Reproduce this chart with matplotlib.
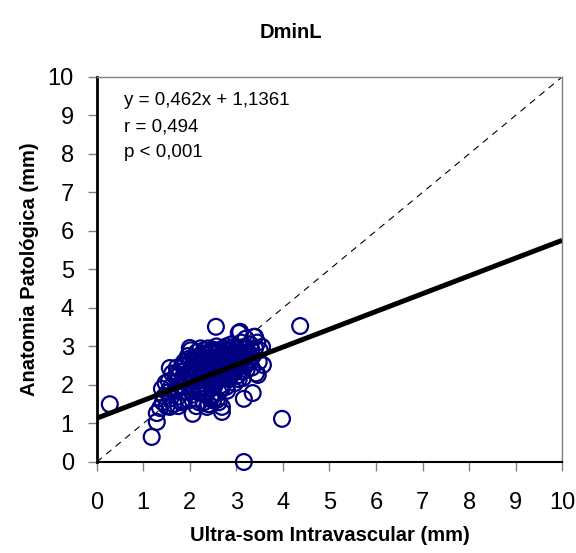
import matplotlib
matplotlib.use("Agg")
import matplotlib.pyplot as plt
import numpy as np

plt.rcParams['font.family'] = ['Liberation Sans', 'DejaVu Sans']

# IVUS vs. pathology minimum lumen diameter (mm)
ivus = [
    0.28, 1.18, 1.29, 1.29, 1.36, 1.57, 1.57, 2.00, 3.08, 3.40, 3.55, 3.46, 3.57,
    3.35, 3.16, 2.69, 2.69, 2.06, 2.56, 4.37, 3.98, 3.16, 2.37, 2.58, 2.69,
    1.40, 1.42, 1.45, 1.48, 1.50, 1.52, 1.55, 1.58, 1.60, 1.62, 1.65, 1.68, 1.70,
    1.72, 1.75, 1.78, 1.80, 1.82, 1.85, 1.88, 1.90, 1.92, 1.95, 1.96, 1.98, 2.00,
    2.02, 2.04, 2.05, 2.07, 2.08, 2.10, 2.12, 2.14, 2.15, 2.17, 2.18, 2.20, 2.22,
    2.23, 2.25, 2.27, 2.28, 2.30, 2.32, 2.33, 2.35, 2.37, 2.38, 2.40, 2.42, 2.43,
    2.45, 2.47, 2.48, 2.50, 2.52, 2.53, 2.55, 2.57, 2.58, 2.60, 2.62, 2.63, 2.65,
    2.67, 2.68, 2.70, 2.72, 2.73, 2.75, 2.77, 2.78, 2.80, 2.82, 2.83, 2.85, 2.87,
    2.88, 2.90, 2.92, 2.93, 2.95, 2.97, 2.98, 3.00, 3.02, 3.03, 3.05, 3.07, 3.08,
    3.10, 3.12, 3.13, 3.15, 3.17, 3.20, 3.22, 3.25, 3.28, 3.30, 3.33, 3.35, 3.38,
    3.40, 3.42, 3.45, 3.48, 3.50,
    2.20, 2.30, 2.40, 2.50, 2.60, 2.45, 2.35, 2.55, 2.65, 2.15, 2.25, 2.05, 1.95,
    2.10, 2.20, 2.30, 2.50, 2.60, 2.70, 2.80, 2.90, 3.00, 2.75, 2.85, 2.95,
    2.20, 2.50, 2.40, 1.75, 1.85, 2.35, 2.45, 2.62, 2.80, 3.05,
    2.12, 2.28, 2.42, 2.58, 2.72, 2.88, 3.02, 3.18, 2.18, 2.34, 2.52, 2.66, 2.84,
    2.98, 3.12, 3.26, 1.88, 2.02, 2.16, 2.32, 2.48, 2.64, 2.78, 2.94, 3.08, 3.22,
    1.72, 1.84, 1.98, 2.26, 2.44, 2.56, 2.74, 2.86, 3.14, 3.32,
]
pathology = [
    1.50, 0.65, 1.04, 1.27, 1.40, 1.43, 2.44, 2.96, 3.38, 3.25, 2.99, 2.26, 2.52,
    1.79, 1.64, 1.43, 1.30, 1.25, 3.51, 3.53, 1.12, 0.00, 1.43, 1.61, 1.92,
    1.90, 1.55, 1.70, 2.05, 1.45, 1.80, 2.10, 1.65, 1.95, 2.30, 1.50, 1.85, 2.20,
    2.45, 1.70, 2.00, 2.35, 1.55, 2.15, 2.60, 1.85, 2.40, 2.05, 2.75, 1.60, 2.25,
    2.90, 1.95, 2.50, 1.75, 2.70, 2.10, 2.35, 1.45, 2.85, 2.00, 2.55, 1.80, 2.25,
    2.95, 2.65, 1.95, 2.40, 1.55, 2.15, 2.80, 2.50, 1.85, 2.30, 2.95, 2.05, 2.65,
    1.70, 2.45, 2.85, 2.20, 1.95, 2.70, 2.35, 3.00, 2.10, 2.55, 1.80, 2.85, 2.30,
    2.65, 2.00, 2.45, 2.95, 2.20, 2.75, 2.55, 1.95, 2.35, 2.90, 2.65, 2.15, 2.50,
    3.05, 2.75, 2.30, 2.60, 2.85, 2.05, 2.45, 2.95, 2.65, 2.25, 3.35, 2.80, 2.50,
    3.10, 2.35, 2.70, 2.95, 2.55, 3.20, 2.40, 2.85, 2.65, 3.05, 2.45, 2.75, 3.25,
    2.95, 2.30, 3.10, 2.60, 2.90,
    2.50, 2.60, 2.40, 2.50, 2.70, 2.20, 2.70, 2.60, 2.50, 2.30, 2.20, 2.10, 2.30,
    2.60, 2.75, 2.90, 2.90, 2.90, 2.80, 2.80, 2.90, 2.80, 2.60, 2.40, 2.70,
    1.55, 1.60, 1.50, 1.45, 1.60, 1.75, 1.65, 1.55, 1.85, 2.15,
    2.40, 2.55, 2.62, 2.45, 2.58, 2.68, 2.52, 2.78, 2.15, 2.32, 2.28, 2.40, 2.48,
    2.36, 2.62, 2.58, 2.48, 2.60, 2.72, 2.82, 2.92, 2.86, 3.00, 2.98, 2.96, 2.72,
    2.30, 2.52, 2.68, 2.05, 2.10, 2.12, 2.18, 2.22, 2.18, 2.92,
]

slope, intercept = 0.462, 1.1361
axis_ticks = list(range(0, 11))

fig = plt.figure(figsize=(5.76, 5.53), dpi=100)
ax = fig.add_axes([0.168, 0.1646, 0.808, 0.6964])

# identity line
ax.plot([0, 10], [0, 10], color='black', lw=0.8, ls=(0, (6, 5)), zorder=1)
# data
ax.scatter(ivus, pathology, s=130, facecolors='none', edgecolors='#000080',
           linewidths=1.6, zorder=2, clip_on=False)
# regression line
xr = np.array([0, 10])
ax.plot(xr, slope * xr + intercept, color='black', lw=3.6, zorder=3,
        solid_capstyle='butt')

ax.set_xlim(0, 10)
ax.set_ylim(0, 10)
ax.set_xticks(axis_ticks)
ax.set_yticks(axis_ticks)
ax.tick_params(axis='both', direction='out', length=6.5, labelsize=17,
               color='#808080', width=1)
ax.tick_params(axis='x', pad=15)
ax.tick_params(axis='y', pad=10)

for side in ('top', 'right'):
    ax.spines[side].set_color('#808080')
    ax.spines[side].set_linewidth(1.0)
ax.spines['left'].set_color('black')
ax.spines['left'].set_linewidth(2.0)
ax.spines['bottom'].set_color('black')
ax.spines['bottom'].set_linewidth(1.5)

ax.set_xlabel('Ultra-som Intravascular (mm)', fontsize=14.5, fontweight='bold',
              labelpad=9)
ax.set_ylabel('Anatomia Patológica (mm)', fontsize=14.5, fontweight='bold',
              labelpad=6)
fig.text(0.505, 0.942, 'DminL', fontsize=14.5, fontweight='bold',
         ha='center', va='center')

ax.text(0.058, 0.96, 'y = 0,462x + 1,1361\nr = 0,494\np < 0,001',
        transform=ax.transAxes, fontsize=13.5, va='top', ha='left',
        linespacing=1.7)

fig.savefig('out.png', dpi=100)
